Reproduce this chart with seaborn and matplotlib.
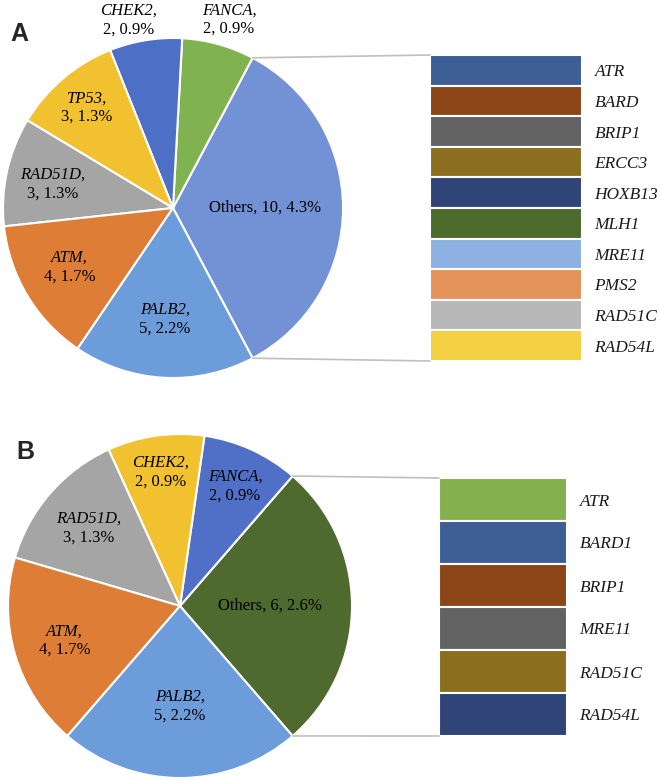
import numpy as np
import pandas as pd
import matplotlib.pyplot as plt
import seaborn as sns
from matplotlib.patches import ConnectionPatch

sns.set_theme(style="white")
plt.rcParams["font.family"] = ["Liberation Serif", "DejaVu Serif"]

W, H = 660, 781

# ---------------------------------------------------------------------------
# data
# ---------------------------------------------------------------------------
a_genes = ["Others", "FANCA", "CHEK2", "TP53", "RAD51D", "ATM", "PALB2"]
a_counts = [10, 2, 2, 3, 3, 4, 5]
a_pcts = [4.3, 0.9, 0.9, 1.3, 1.3, 1.7, 2.2]
a_colors = ["#7391D5", "#80B24F", "#4E6FC6", "#F2C12F", "#A5A5A5", "#DE7D36", "#6D9CDB"]

a_other_genes = ["ATR", "BARD", "BRIP1", "ERCC3", "HOXB13", "MLH1", "MRE11", "PMS2", "RAD51C", "RAD54L"]
a_other_counts = [1, 1, 1, 1, 1, 1, 1, 1, 1, 1]
a_other_colors = ["#3D5F95", "#8B4516", "#636363", "#8C6E1F", "#304478",
                  "#4D6A2D", "#8EB1E3", "#E4945B", "#B8B8B8", "#F3D143"]

b_genes = ["Others", "FANCA", "CHEK2", "RAD51D", "ATM", "PALB2"]
b_counts = [6, 2, 2, 3, 4, 5]
b_pcts = [2.6, 0.9, 0.9, 1.3, 1.7, 2.2]
b_colors = ["#4E6A2E", "#5070C8", "#F2C12F", "#A5A5A5", "#DE7D36", "#6D9CDB"]

b_other_genes = ["ATR", "BARD1", "BRIP1", "MRE11", "RAD51C", "RAD54L"]
b_other_counts = [1, 1, 1, 1, 1, 1]
b_other_colors = ["#84B04E", "#3D5F95", "#8B4516", "#636363", "#8C6E1F", "#304478"]

# label placement: (radius fraction, angle shift in degrees) per wedge
a_label_pos = [(0.54, 0), (1.16, -1), (1.14, 4), (0.78, 0), (0.72, 1), (0.70, -1.5), (0.65, -1)]
b_label_pos = [(0.52, 0), (0.77, 0), (0.79, 0), (0.70, 0), (0.70, 0), (0.58, 0)]

FS = 12

fig = plt.figure(figsize=(W / 100, H / 100), dpi=100)


def px_box(left, top, right, bottom):
    return [left / W, 1 - bottom / H, (right - left) / W, (bottom - top) / H]


def draw_panel(letter, letter_xy, center, radius, bar_box, genes, counts, pcts, colors,
               label_pos, other_genes, other_counts, other_colors):
    cx, cy = center
    axp = fig.add_axes(px_box(cx - radius, cy - radius, cx + radius, cy + radius))
    start = -counts[0] / sum(counts) * 180
    wedges, _ = axp.pie(counts, colors=colors, startangle=start, counterclock=True,
                        wedgeprops=dict(edgecolor="white", linewidth=1.5))
    axp.set_xlim(-1, 1)
    axp.set_ylim(-1, 1)

    for i, w in enumerate(wedges):
        r, shift = label_pos[i]
        th = np.deg2rad((w.theta1 + w.theta2) / 2 + shift)
        x, y = r * np.cos(th), r * np.sin(th)
        if i == 0:
            axp.text(x, y, f"{genes[i]}, {counts[i]}, {pcts[i]}%", ha="center", va="center",
                     fontsize=FS, color="black")
        else:
            axp.annotate(f"{genes[i]},", (x, y), xytext=(0, 0.5), textcoords="offset points",
                         ha="center", va="bottom", fontsize=FS, fontstyle="italic",
                         color="black", annotation_clip=False)
            axp.annotate(f"{counts[i]}, {pcts[i]}%", (x, y), xytext=(0, -1.5),
                         textcoords="offset points", ha="center", va="top", fontsize=FS,
                         color="black", annotation_clip=False)

    # bar of the "Others" slice
    axb = fig.add_axes(px_box(*bar_box))
    df = pd.DataFrame({"gene": other_genes, "count": other_counts})
    sns.barplot(data=df, x="count", y="gene", hue="gene", palette=other_colors, legend=False,
                width=1, orient="h", saturation=1, edgecolor="white", linewidth=1.5, ax=axb)
    n = len(other_genes)
    axb.set_xlim(0, 1)
    axb.set_ylim(n - 0.5, -0.5)
    axb.set_xticks([])
    axb.set_xlabel("")
    axb.set_ylabel("")
    axb.yaxis.tick_right()
    axb.tick_params(axis="y", length=0, pad=9, labelsize=12.5, labelcolor="#1a1a1a")
    for lab in axb.get_yticklabels():
        lab.set_fontstyle("italic")
    for s in axb.spines.values():
        s.set_visible(False)

    # connector lines
    w0 = wedges[0]
    for ang, yb in [(w0.theta2, -0.5), (w0.theta1, n - 0.5)]:
        t = np.deg2rad(ang)
        con = ConnectionPatch(xyA=(np.cos(t), np.sin(t)), coordsA=axp.transData,
                              xyB=(0, yb), coordsB=axb.transData,
                              color="#BFBFBF", linewidth=1.2)
        fig.add_artist(con)

    fig.text(letter_xy[0] / W, 1 - letter_xy[1] / H, letter, fontsize=18, fontweight="bold",
             family="Liberation Sans", ha="center", va="center")


draw_panel("A", (19, 34), (173, 208), 170, (430, 55, 582, 361),
           a_genes, a_counts, a_pcts, a_colors, a_label_pos,
           a_other_genes, a_other_counts, a_other_colors)

draw_panel("B", (25, 452), (180, 606), 172, (439, 478, 567, 736),
           b_genes, b_counts, b_pcts, b_colors, b_label_pos,
           b_other_genes, b_other_counts, b_other_colors)

fig.savefig("out.png", dpi=100, facecolor="white")
